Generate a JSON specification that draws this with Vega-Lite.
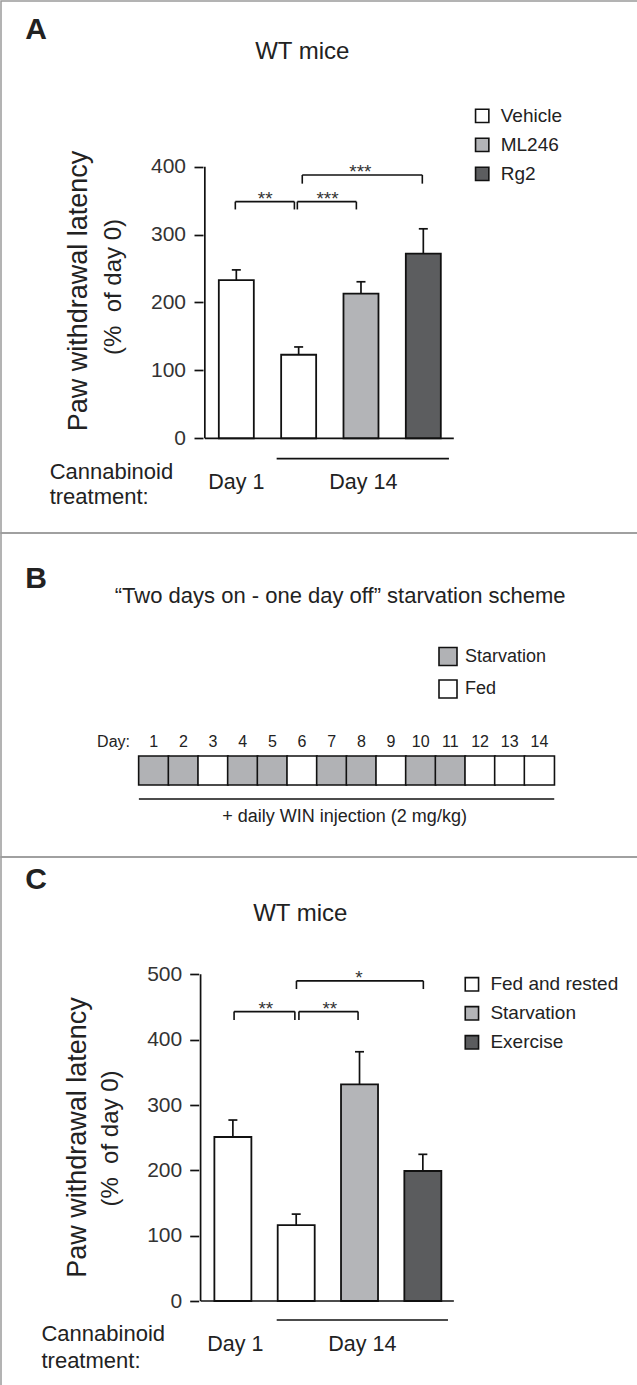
{
  "$schema": "https://vega.github.io/schema/vega-lite/v6.json",
  "padding": 0,
  "spacing": 0,
  "bounds": "flush",
  "background": "white",
  "config": {
    "view": {"stroke": "#9b9b9b", "strokeWidth": 1.5},
    "text": {"font": "Liberation Sans", "color": "#222"},
    "axis": {"labelFont": "Liberation Sans"},
    "legend": {"labelFont": "Liberation Sans"}
  },
  "resolve": {"scale": {"fill": "independent"}, "legend": {"fill": "independent"}},
  "datasets": {
    "barsA": [
      {"order": 1, "day": "Day 1", "treatment": "Vehicle", "mean": 233, "upper": 248},
      {"order": 2, "day": "Day 14", "treatment": "Vehicle", "mean": 123, "upper": 134.5},
      {"order": 3, "day": "Day 14", "treatment": "ML246", "mean": 213, "upper": 230.5},
      {"order": 4, "day": "Day 14", "treatment": "Rg2", "mean": 272, "upper": 308.5}
    ],
    "bracketsA": [
      {"from": 0.984, "to": 1.932, "mid": 1.463, "level": 348.5, "foot": 337, "label": "**"},
      {"from": 1.979, "to": 2.926, "mid": 2.464, "level": 348.5, "foot": 337, "label": "***"},
      {"from": 2.058, "to": 3.984, "mid": 2.99, "level": 387.8, "foot": 375, "label": "***"}
    ],
    "days": [
      {"day": 1, "state": "Starvation"}, {"day": 2, "state": "Starvation"}, {"day": 3, "state": "Fed"},
      {"day": 4, "state": "Starvation"}, {"day": 5, "state": "Starvation"}, {"day": 6, "state": "Fed"},
      {"day": 7, "state": "Starvation"}, {"day": 8, "state": "Starvation"}, {"day": 9, "state": "Fed"},
      {"day": 10, "state": "Starvation"}, {"day": 11, "state": "Starvation"}, {"day": 12, "state": "Fed"},
      {"day": 13, "state": "Fed"}, {"day": 14, "state": "Fed"}
    ],
    "barsC": [
      {"order": 1, "day": "Day 1", "condition": "Fed and rested", "mean": 251, "upper": 277},
      {"order": 2, "day": "Day 14", "condition": "Fed and rested", "mean": 116, "upper": 133},
      {"order": 3, "day": "Day 14", "condition": "Starvation", "mean": 331.5, "upper": 381.5},
      {"order": 4, "day": "Day 14", "condition": "Exercise", "mean": 199, "upper": 224.5}
    ],
    "bracketsC": [
      {"from": 1.019, "to": 1.979, "mid": 1.521, "level": 443, "foot": 430, "label": "**"},
      {"from": 2.043, "to": 2.977, "mid": 2.531, "level": 443, "foot": 430, "label": "**"},
      {"from": 2.004, "to": 4.008, "mid": 2.993, "level": 490, "foot": 477.5, "label": "*"}
    ]
  },
  "vconcat": [
    {
      "width": 637,
      "height": 532,
      "layer": [
        {
          "data": {"name": "barsA"},
          "mark": {"type": "bar", "width": 35, "stroke": "#111", "strokeWidth": 1.8, "opacity": 1},
          "encoding": {
            "x": {"field": "order", "type": "quantitative", "scale": {"domain": [-2.695, 7.364], "nice": false, "zero": false}, "axis": null},
            "y": {"field": "mean", "type": "quantitative", "stack": null, "scale": {"domain": [-139.5, 644], "nice": false, "zero": false},
              "axis": {"orient": "left", "offset": -202, "values": [0, 100, 200, 300, 400], "domain": false, "grid": false, "tickSize": 9, "tickWidth": 1.7, "tickColor": "#111", "labelFontSize": 21, "labelColor": "#333", "labelPadding": 8.5, "title": null}},
            "y2": {"datum": 0},
            "fill": {"field": "treatment", "type": "nominal", "scale": {"domain": ["Vehicle", "ML246", "Rg2"], "range": ["#ffffff", "#b3b4b7", "#5c5d5f"]},
              "legend": {"title": null, "orient": "none", "legendX": 471.7, "legendY": 105.4, "direction": "vertical", "symbolType": "square", "symbolSize": 177, "symbolStrokeColor": "#111", "symbolStrokeWidth": 1.6, "labelFontSize": 19, "labelColor": "#222", "labelOffset": 9, "rowPadding": 8, "padding": 0}}
          }
        },
        {
          "data": {"name": "barsA"},
          "mark": {"type": "rule", "color": "#111", "strokeWidth": 1.7},
          "encoding": {
            "x": {"field": "order", "type": "quantitative"},
            "y": {"field": "mean", "type": "quantitative"},
            "y2": {"field": "upper"}
          }
        },
        {
          "data": {"name": "barsA"},
          "mark": {"type": "tick", "orient": "horizontal", "size": 9, "thickness": 1.7, "color": "#111", "opacity": 1},
          "encoding": {
            "x": {"field": "order", "type": "quantitative"},
            "y": {"field": "upper", "type": "quantitative"}
          }
        },
        {
          "data": {"values": [{}]},
          "mark": {"type": "rule", "color": "#111", "strokeWidth": 1.7},
          "encoding": {"x": {"datum": 0.495, "type": "quantitative"}, "y": {"datum": 0, "type": "quantitative"}, "y2": {"datum": 400}}
        },
        {
          "data": {"values": [{}]},
          "mark": {"type": "rule", "color": "#111", "strokeWidth": 1.7},
          "encoding": {"x": {"datum": 0.495, "type": "quantitative"}, "x2": {"datum": 4.489}, "y": {"datum": 0, "type": "quantitative"}}
        },
        {
          "data": {"name": "bracketsA"},
          "mark": {"type": "rule", "color": "#111", "strokeWidth": 1.6},
          "encoding": {"x": {"field": "from", "type": "quantitative"}, "x2": {"field": "to"}, "y": {"field": "level", "type": "quantitative"}}
        },
        {
          "data": {"name": "bracketsA"},
          "mark": {"type": "rule", "color": "#111", "strokeWidth": 1.6},
          "encoding": {"x": {"field": "from", "type": "quantitative"}, "y": {"field": "level", "type": "quantitative"}, "y2": {"field": "foot"}}
        },
        {
          "data": {"name": "bracketsA"},
          "mark": {"type": "rule", "color": "#111", "strokeWidth": 1.6},
          "encoding": {"x": {"field": "to", "type": "quantitative"}, "y": {"field": "level", "type": "quantitative"}, "y2": {"field": "foot"}}
        },
        {
          "data": {"name": "bracketsA"},
          "mark": {"type": "text", "fontSize": 19, "align": "center", "baseline": "alphabetic", "dy": 3, "color": "#333"},
          "encoding": {"x": {"field": "mid", "type": "quantitative"}, "y": {"field": "level", "type": "quantitative"}, "text": {"field": "label"}}
        },
        {
          "data": {"values": [{}]},
          "mark": {"type": "text", "fontSize": 30, "fontWeight": "bold", "align": "left", "baseline": "alphabetic", "color": "#222"},
          "encoding": {"x": {"datum": -2.387, "type": "quantitative"}, "y": {"datum": 588.1, "type": "quantitative"}, "text": {"value": "A"}}
        },
        {
          "data": {"values": [{}]},
          "mark": {"type": "text", "fontSize": 24, "align": "center", "baseline": "alphabetic"},
          "encoding": {"x": {"datum": 2.058, "type": "quantitative"}, "y": {"datum": 558.2, "type": "quantitative"}, "text": {"value": "WT mice"}}
        },
        {
          "data": {"values": [{}]},
          "mark": {"type": "text", "fontSize": 27, "angle": 270, "align": "center", "baseline": "alphabetic"},
          "encoding": {"x": {"datum": -1.4, "type": "quantitative"}, "y": {"datum": 216.9, "type": "quantitative"}, "text": {"value": "Paw withdrawal latency"}}
        },
        {
          "data": {"values": [{}]},
          "mark": {"type": "text", "fontSize": 24, "angle": 270, "align": "center", "baseline": "alphabetic"},
          "encoding": {"x": {"datum": -0.847, "type": "quantitative"}, "y": {"datum": 222.8, "type": "quantitative"}, "text": {"value": "(%\u00a0 of day 0)"}}
        },
        {
          "data": {"values": [{}]},
          "mark": {"type": "rule", "color": "#111", "strokeWidth": 1.6},
          "encoding": {"x": {"datum": 1.647, "type": "quantitative"}, "x2": {"datum": 4.411}, "y": {"datum": -30, "type": "quantitative"}}
        },
        {
          "data": {"values": [{}]},
          "mark": {"type": "text", "fontSize": 21.5, "align": "center", "baseline": "alphabetic"},
          "encoding": {"x": {"datum": 1.0, "type": "quantitative"}, "y": {"datum": -75.4, "type": "quantitative"}, "text": {"value": "Day 1"}}
        },
        {
          "data": {"values": [{}]},
          "mark": {"type": "text", "fontSize": 21.5, "align": "center", "baseline": "alphabetic"},
          "encoding": {"x": {"datum": 3.037, "type": "quantitative"}, "y": {"datum": -75.4, "type": "quantitative"}, "text": {"value": "Day 14"}}
        },
        {
          "data": {"values": [{}]},
          "mark": {"type": "text", "fontSize": 22, "align": "left", "baseline": "alphabetic", "lineHeight": 24.7},
          "encoding": {"x": {"datum": -1.995, "type": "quantitative"}, "y": {"datum": -60.4, "type": "quantitative"}, "text": {"value": ["Cannabinoid", "treatment:"]}}
        }
      ]
    },
    {
      "width": 637,
      "height": 324,
      "layer": [
        {
          "data": {"name": "days"},
          "mark": {"type": "bar", "width": 30.14, "stroke": "#111", "strokeWidth": 1.6, "opacity": 1},
          "encoding": {
            "x": {"field": "day", "type": "quantitative", "scale": {"domain": [-3.979, 17.155], "nice": false, "zero": false}, "axis": null},
            "y": {"datum": 0, "type": "quantitative", "scale": {"domain": [-2.483, 8.69], "nice": false, "zero": false}, "axis": null},
            "y2": {"datum": 1},
            "fill": {"field": "state", "type": "nominal", "scale": {"domain": ["Starvation", "Fed"], "range": ["#b1b2b5", "#ffffff"]},
              "legend": {"title": null, "orient": "none", "legendX": 437, "legendY": 113.5, "direction": "vertical", "symbolType": "square", "symbolSize": 324, "symbolStrokeColor": "#111", "symbolStrokeWidth": 1.6, "labelFontSize": 18, "labelColor": "#222", "labelOffset": 7, "rowPadding": 6.5, "padding": 0}}
          }
        },
        {
          "data": {"name": "days"},
          "mark": {"type": "text", "fontSize": 16, "align": "center", "baseline": "alphabetic"},
          "encoding": {"x": {"field": "day", "type": "quantitative"}, "y": {"datum": 1.31, "type": "quantitative"}, "text": {"field": "day"}}
        },
        {
          "data": {"values": [{}]},
          "mark": {"type": "text", "fontSize": 16, "align": "right", "baseline": "alphabetic"},
          "encoding": {"x": {"datum": 0.201, "type": "quantitative"}, "y": {"datum": 1.31, "type": "quantitative"}, "text": {"value": "Day:"}}
        },
        {
          "data": {"values": [{}]},
          "mark": {"type": "text", "fontSize": 30, "fontWeight": "bold", "align": "left", "baseline": "alphabetic"},
          "encoding": {"x": {"datum": -3.332, "type": "quantitative"}, "y": {"datum": 6.793, "type": "quantitative"}, "text": {"value": "B"}}
        },
        {
          "data": {"values": [{}]},
          "mark": {"type": "text", "fontSize": 22, "align": "center", "baseline": "alphabetic"},
          "encoding": {"x": {"datum": 7.285, "type": "quantitative"}, "y": {"datum": 6.276, "type": "quantitative"}, "text": {"value": "“Two days on - one day off” starvation scheme"}}
        },
        {
          "data": {"values": [{}]},
          "mark": {"type": "rule", "color": "#111", "strokeWidth": 1.6},
          "encoding": {"x": {"datum": 0.5, "type": "quantitative"}, "x2": {"datum": 14.5}, "y": {"datum": -0.483, "type": "quantitative"}}
        },
        {
          "data": {"values": [{}]},
          "mark": {"type": "text", "fontSize": 18, "align": "center", "baseline": "alphabetic"},
          "encoding": {"x": {"datum": 7.434, "type": "quantitative"}, "y": {"datum": -1.276, "type": "quantitative"}, "text": {"value": "+ daily WIN injection (2 mg/kg)"}}
        }
      ]
    },
    {
      "width": 637,
      "height": 529,
      "layer": [
        {
          "data": {"name": "barsC"},
          "mark": {"type": "bar", "width": 37, "stroke": "#111", "strokeWidth": 1.8, "opacity": 1},
          "encoding": {
            "x": {"field": "order", "type": "quantitative", "scale": {"domain": [-2.583, 7.319], "nice": false, "zero": false}, "axis": null},
            "y": {"field": "mean", "type": "quantitative", "stack": null, "scale": {"domain": [-130.1, 679.6], "nice": false, "zero": false},
              "axis": {"orient": "left", "offset": -197.7, "values": [0, 100, 200, 300, 400, 500], "domain": false, "grid": false, "tickSize": 9, "tickWidth": 1.7, "tickColor": "#111", "labelFontSize": 21, "labelColor": "#333", "labelPadding": 8, "title": null}},
            "y2": {"datum": 0},
            "fill": {"field": "condition", "type": "nominal", "scale": {"domain": ["Fed and rested", "Starvation", "Exercise"], "range": ["#ffffff", "#b4b5b8", "#5b5c5e"]},
              "legend": {"title": null, "orient": "none", "legendX": 461.4, "legendY": 117.8, "direction": "vertical", "symbolType": "square", "symbolSize": 177, "symbolStrokeColor": "#111", "symbolStrokeWidth": 1.6, "labelFontSize": 19, "labelColor": "#222", "labelOffset": 9, "rowPadding": 8, "padding": 0}}
          }
        },
        {
          "data": {"name": "barsC"},
          "mark": {"type": "rule", "color": "#111", "strokeWidth": 1.7},
          "encoding": {
            "x": {"field": "order", "type": "quantitative"},
            "y": {"field": "mean", "type": "quantitative"},
            "y2": {"field": "upper"}
          }
        },
        {
          "data": {"name": "barsC"},
          "mark": {"type": "tick", "orient": "horizontal", "size": 9, "thickness": 1.7, "color": "#111", "opacity": 1},
          "encoding": {
            "x": {"field": "order", "type": "quantitative"},
            "y": {"field": "upper", "type": "quantitative"}
          }
        },
        {
          "data": {"values": [{}]},
          "mark": {"type": "rule", "color": "#111", "strokeWidth": 1.7},
          "encoding": {"x": {"datum": 0.49, "type": "quantitative"}, "y": {"datum": 0, "type": "quantitative"}, "y2": {"datum": 500}}
        },
        {
          "data": {"values": [{}]},
          "mark": {"type": "rule", "color": "#111", "strokeWidth": 1.7},
          "encoding": {"x": {"datum": 0.49, "type": "quantitative"}, "x2": {"datum": 4.49}, "y": {"datum": 0, "type": "quantitative"}}
        },
        {
          "data": {"name": "bracketsC"},
          "mark": {"type": "rule", "color": "#111", "strokeWidth": 1.6},
          "encoding": {"x": {"field": "from", "type": "quantitative"}, "x2": {"field": "to"}, "y": {"field": "level", "type": "quantitative"}}
        },
        {
          "data": {"name": "bracketsC"},
          "mark": {"type": "rule", "color": "#111", "strokeWidth": 1.6},
          "encoding": {"x": {"field": "from", "type": "quantitative"}, "y": {"field": "level", "type": "quantitative"}, "y2": {"field": "foot"}}
        },
        {
          "data": {"name": "bracketsC"},
          "mark": {"type": "rule", "color": "#111", "strokeWidth": 1.6},
          "encoding": {"x": {"field": "to", "type": "quantitative"}, "y": {"field": "level", "type": "quantitative"}, "y2": {"field": "foot"}}
        },
        {
          "data": {"name": "bracketsC"},
          "mark": {"type": "text", "fontSize": 19, "align": "center", "baseline": "alphabetic", "dy": 3, "color": "#333"},
          "encoding": {"x": {"field": "mid", "type": "quantitative"}, "y": {"field": "level", "type": "quantitative"}, "text": {"field": "label"}}
        },
        {
          "data": {"values": [{}]},
          "mark": {"type": "text", "fontSize": 30, "fontWeight": "bold", "align": "left", "baseline": "alphabetic"},
          "encoding": {"x": {"datum": -2.28, "type": "quantitative"}, "y": {"datum": 630.6, "type": "quantitative"}, "text": {"value": "C"}}
        },
        {
          "data": {"values": [{}]},
          "mark": {"type": "text", "fontSize": 24, "align": "center", "baseline": "alphabetic"},
          "encoding": {"x": {"datum": 2.065, "type": "quantitative"}, "y": {"datum": 581.7, "type": "quantitative"}, "text": {"value": "WT mice"}}
        },
        {
          "data": {"values": [{}]},
          "mark": {"type": "text", "fontSize": 27, "angle": 270, "align": "center", "baseline": "alphabetic"},
          "encoding": {"x": {"datum": -1.324, "type": "quantitative"}, "y": {"datum": 250.3, "type": "quantitative"}, "text": {"value": "Paw withdrawal latency"}}
        },
        {
          "data": {"values": [{}]},
          "mark": {"type": "text", "fontSize": 24, "angle": 270, "align": "center", "baseline": "alphabetic"},
          "encoding": {"x": {"datum": -0.819, "type": "quantitative"}, "y": {"datum": 248.7, "type": "quantitative"}, "text": {"value": "(%\u00a0 of day 0)"}}
        },
        {
          "data": {"values": [{}]},
          "mark": {"type": "rule", "color": "#111", "strokeWidth": 1.6},
          "encoding": {"x": {"datum": 1.692, "type": "quantitative"}, "x2": {"datum": 4.397}, "y": {"datum": -29.1, "type": "quantitative"}}
        },
        {
          "data": {"values": [{}]},
          "mark": {"type": "text", "fontSize": 21.5, "align": "center", "baseline": "alphabetic"},
          "encoding": {"x": {"datum": 1.039, "type": "quantitative"}, "y": {"datum": -76.5, "type": "quantitative"}, "text": {"value": "Day 1"}}
        },
        {
          "data": {"values": [{}]},
          "mark": {"type": "text", "fontSize": 21.5, "align": "center", "baseline": "alphabetic"},
          "encoding": {"x": {"datum": 3.044, "type": "quantitative"}, "y": {"datum": -76.5, "type": "quantitative"}, "text": {"value": "Day 14"}}
        },
        {
          "data": {"values": [{}]},
          "mark": {"type": "text", "fontSize": 22, "align": "left", "baseline": "alphabetic", "lineHeight": 26.7},
          "encoding": {"x": {"datum": -2.023, "type": "quantitative"}, "y": {"datum": -61.2, "type": "quantitative"}, "text": {"value": ["Cannabinoid", "treatment:"]}}
        }
      ]
    }
  ]
}
